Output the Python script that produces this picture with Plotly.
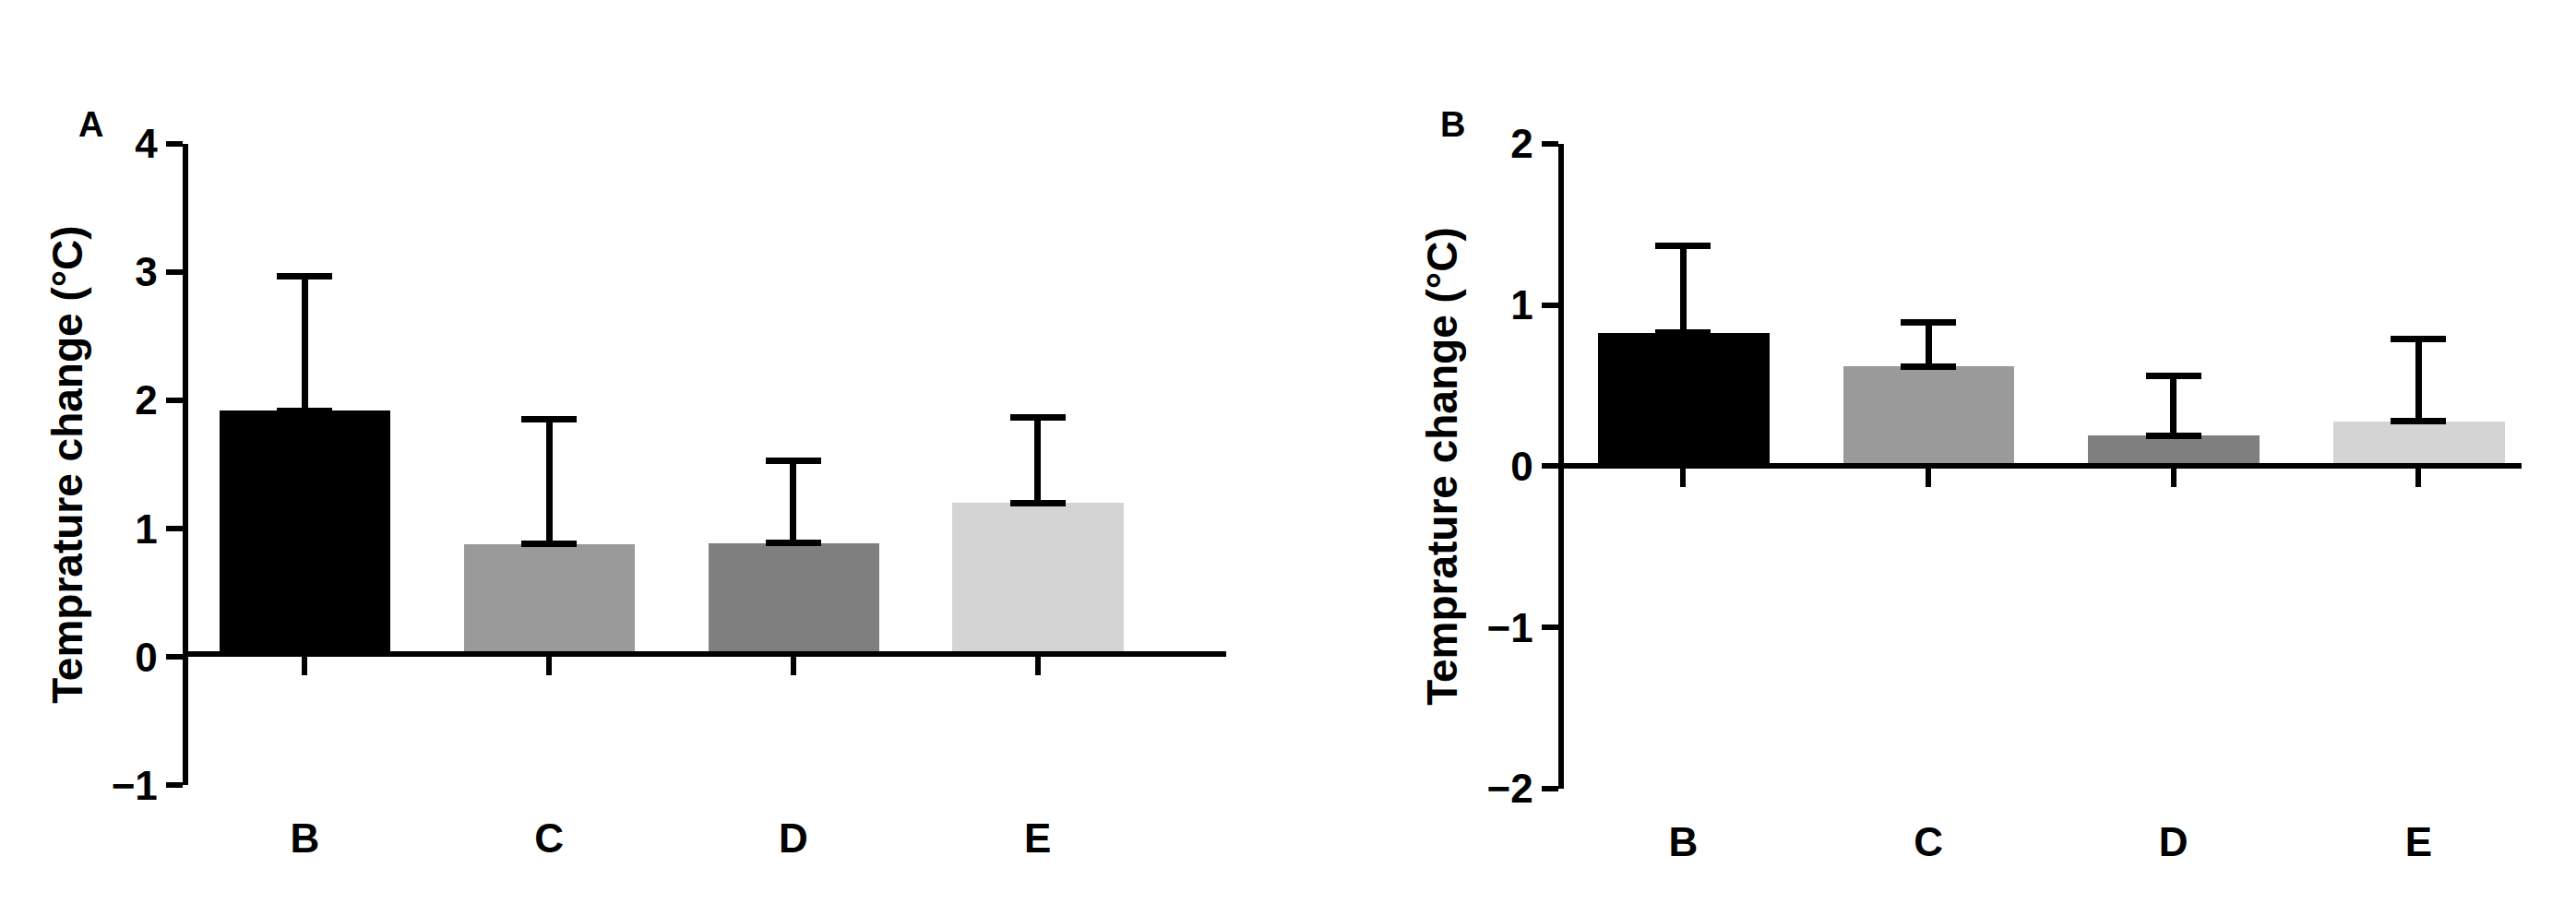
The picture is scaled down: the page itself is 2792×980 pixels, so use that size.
import plotly.graph_objects as go

cats = ["B", "C", "D", "E"]
a_vals = [1.92, 0.88, 0.89, 1.20]
a_err = [1.05, 0.97, 0.64, 0.67]
b_vals = [0.83, 0.62, 0.19, 0.28]
b_err = [0.54, 0.27, 0.37, 0.51]
colors = ["#000000", "#9a9a9a", "#7f7f7f", "#d4d4d4"]
pos = [0, 1, 2, 3]

F = "Liberation Sans"
fig = go.Figure()
for vals, errs, xa, ya in [(a_vals, a_err, "x", "y"), (b_vals, b_err, "x2", "y2")]:
    fig.add_trace(go.Bar(x=pos, y=vals, width=0.7, marker=dict(color=colors, line=dict(width=0)),
                         error_y=dict(type="data", array=errs, arrayminus=[0]*4, symmetric=False,
                                      color="black", thickness=7, width=30),
                         xaxis=xa, yaxis=ya, showlegend=False))
fig.add_trace(go.Scatter(x=pos, y=[0]*4, xaxis="x3", yaxis="y", mode="none", showlegend=False, hoverinfo="skip"))
fig.add_trace(go.Scatter(x=pos, y=[0]*4, xaxis="x4", yaxis="y2", mode="none", showlegend=False, hoverinfo="skip"))

tf = dict(family=F, size=44, color="black", weight="bold")
titf = dict(family=F, size=46, color="black", weight="bold")
LW = 6
ycommon = dict(showline=True, linecolor="black", linewidth=LW, ticks="outside", ticklen=18, tickwidth=LW,
               tickcolor="black", showgrid=False, zeroline=False, tickfont=tf,
               title=dict(text="Temprature change (°C)", font=titf, standoff=16))
xcommon = dict(showline=False, showgrid=False, zeroline=False, ticks="", tickvals=pos, ticktext=cats,
               tickfont=tf, ticklabelstandoff=28)
zl = dict(anchor="free", showline=True, linecolor="black", linewidth=LW, ticks="outside", ticklen=20,
          tickwidth=LW, tickcolor="black", tickvals=pos, showticklabels=False, showgrid=False, zeroline=False)
fig.update_layout(
    width=2792, height=980, paper_bgcolor="white", plot_bgcolor="white",
    margin=dict(l=0, r=0, t=0, b=0),
    bargap=0,
    xaxis=dict(domain=[0.069, 0.473], range=[-0.49, 3.77], anchor="y", **xcommon),
    yaxis=dict(domain=[0.121, 0.868], range=[-1, 4], dtick=1, anchor="free", position=0.069, **ycommon),
    xaxis2=dict(domain=[0.603, 0.976], range=[-0.50, 3.42], anchor="y2", **xcommon),
    yaxis2=dict(domain=[0.117, 0.868], range=[-2, 2], dtick=1, anchor="free", position=0.603, **ycommon),
    xaxis3=dict(overlaying="x", matches="x", position=0.274, **zl),
    xaxis4=dict(overlaying="x2", matches="x2", position=0.4925, **zl),
    annotations=[
        dict(text="A", x=0.027, y=0.915, xref="paper", yref="paper", showarrow=False,
             font=dict(family=F, size=38, color="black", weight="bold")),
        dict(text="B", x=0.561, y=0.915, xref="paper", yref="paper", showarrow=False,
             font=dict(family=F, size=38, color="black", weight="bold")),
    ],
)
fig.write_html("out.html")
